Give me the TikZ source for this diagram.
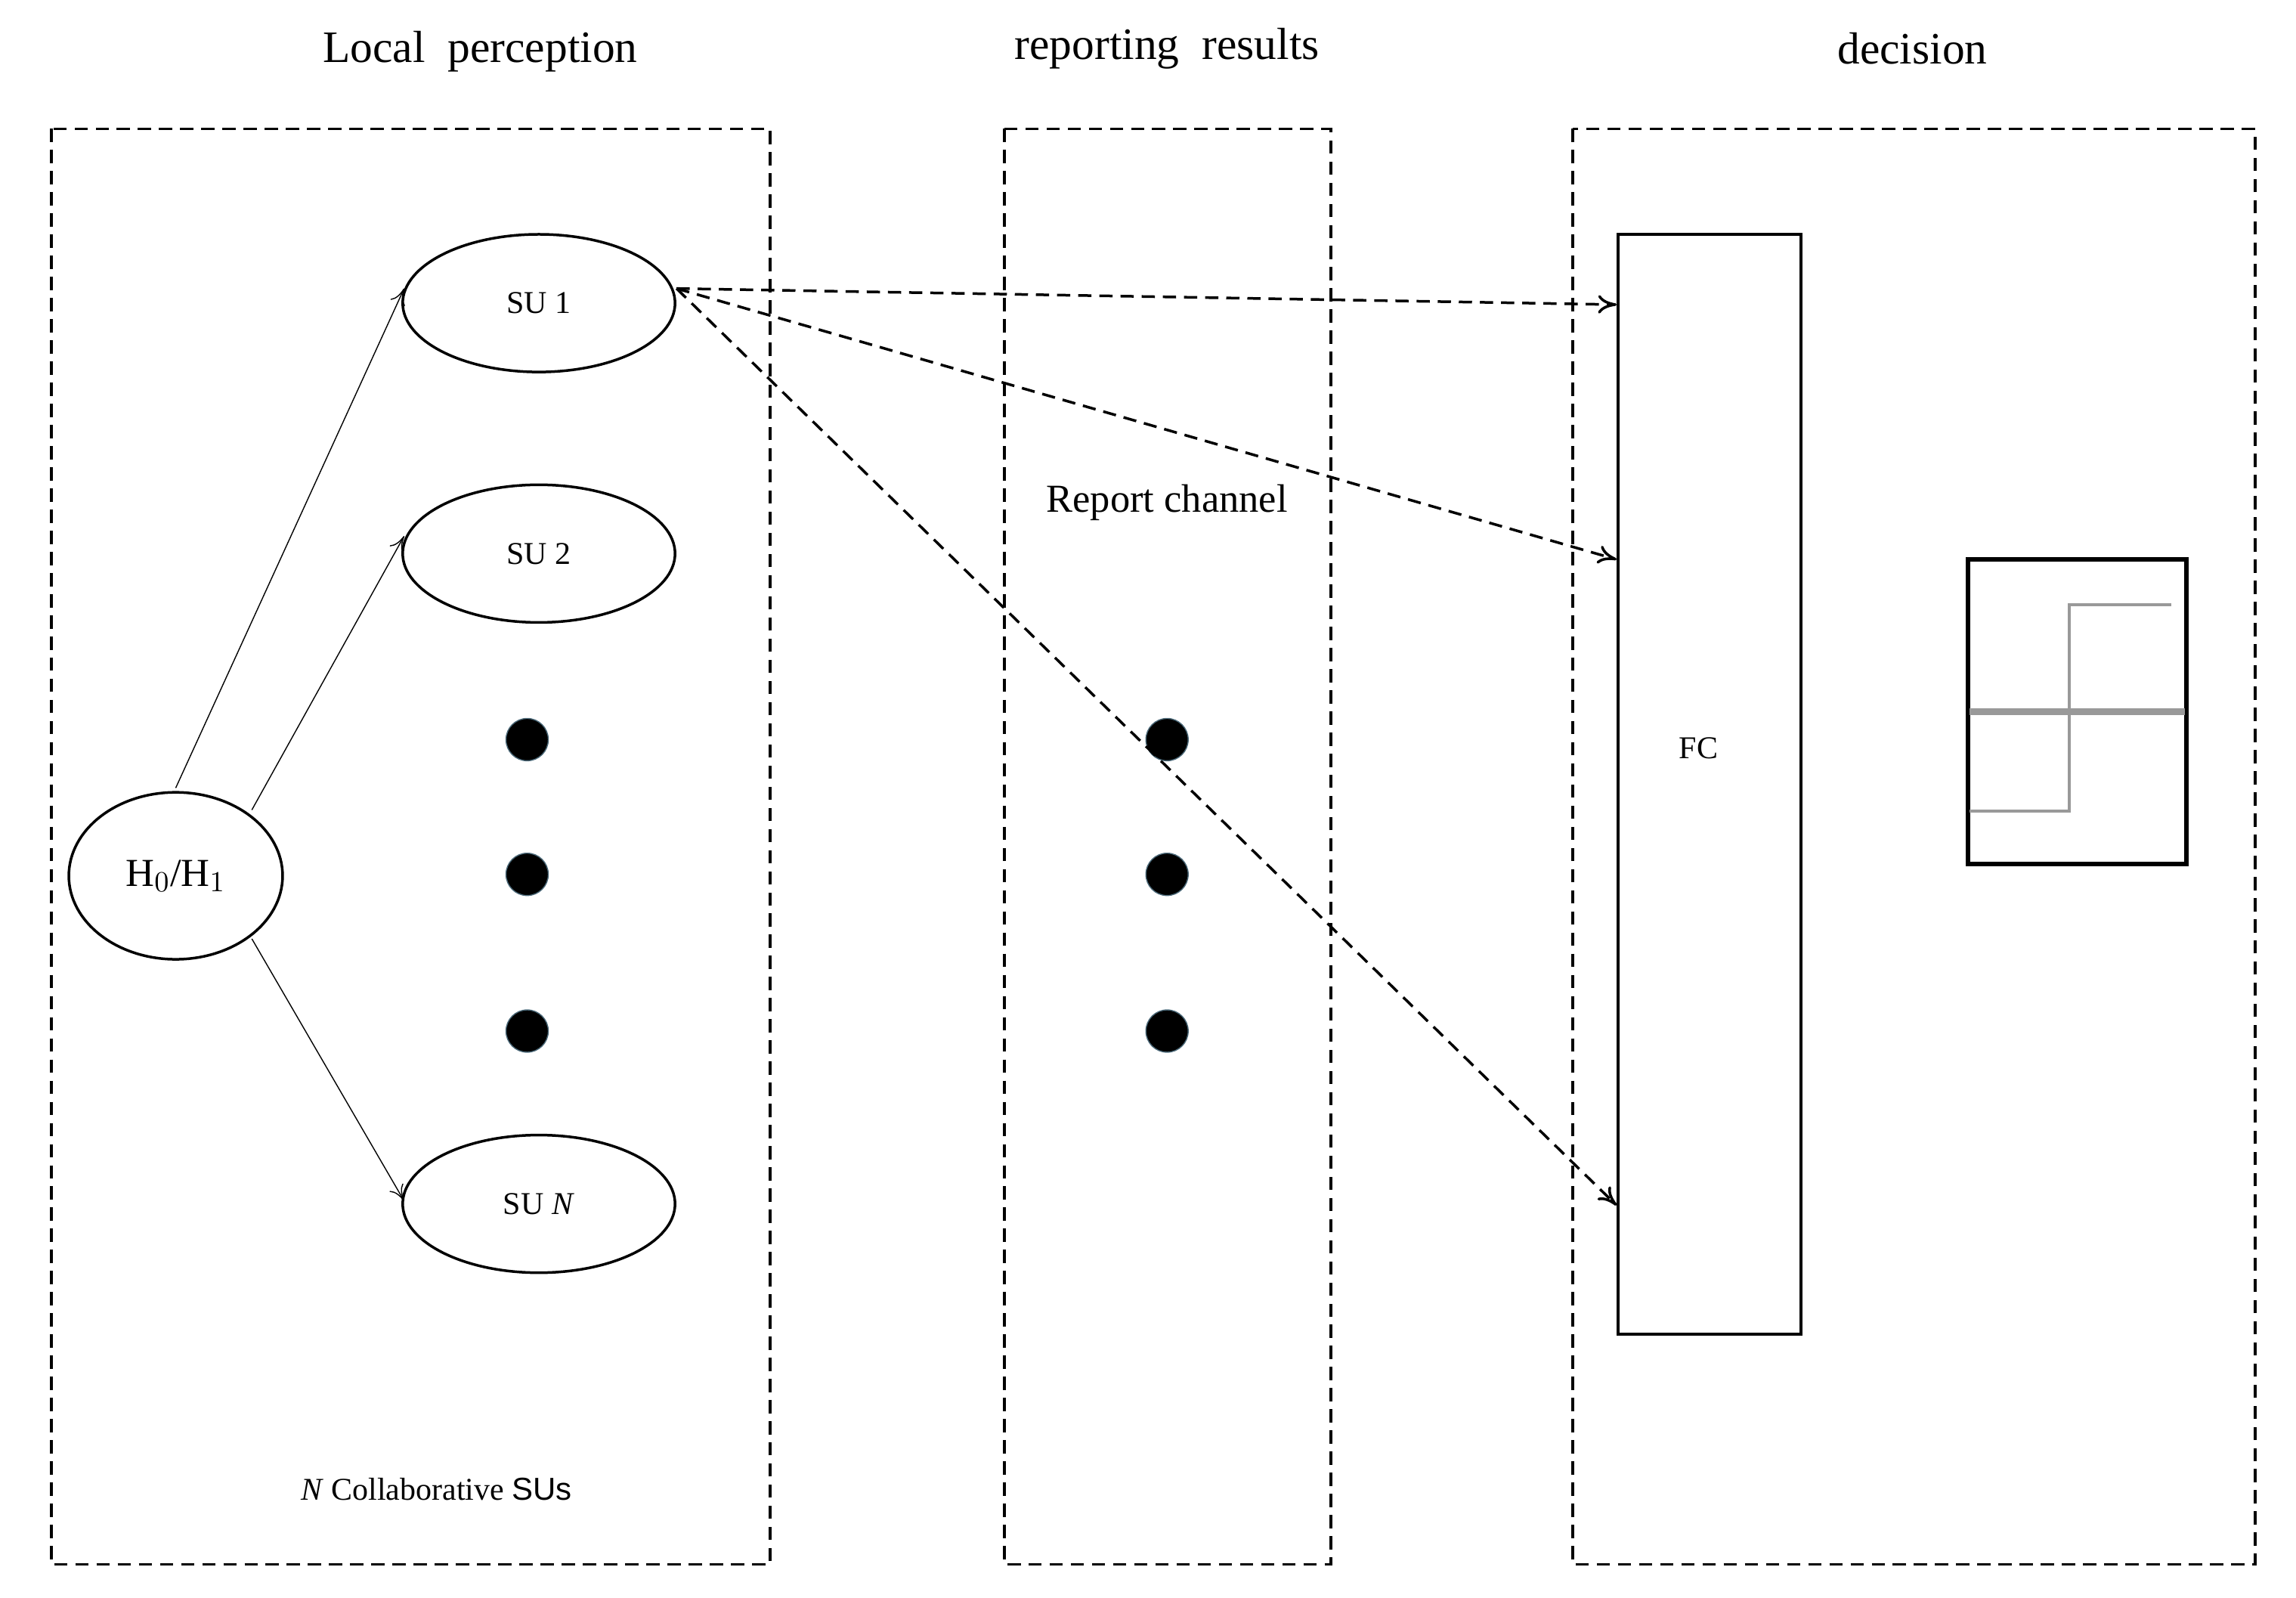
\documentclass[tikz,border=0pt]{standalone}
\usepackage{fontspec}
\setmainfont{Liberation Serif}
\newfontfamily\sansf{Liberation Sans}
\usetikzlibrary{shapes.geometric,arrows.meta}
\begin{document}
\begin{tikzpicture}[x=0.01947cm,y=-0.01947cm,
  box/.style={draw,dashed,line width=1pt,dash pattern=on 5pt off 3pt},
  dot/.style={circle,fill=black,draw=black!60!cyan,minimum size=16pt,inner sep=0pt},
  sol/.style={->,>={To[length=6pt,width=6pt]},line width=0.4pt},
  dsh/.style={->,>={To[length=7pt,width=7pt]},line width=1pt,dash pattern=on 5pt off 3pt},
  title/.style={font=\fontsize{17}{20}\selectfont}]
\useasboundingbox (0,0) rectangle (1568,1091);
\node[title] (t1) at (328,35) {Local\ \ perception};
\node[title] (t2) at (797,33) {reporting\ \ results};
\node[title] (t3) at (1306,33) {decision};
\draw[box] (35,88) rectangle (526,1068);
\draw[box] (686,88) rectangle (909,1068);
\draw[box] (1074,88) rectangle (1540,1068);
\node[draw,ellipse,line width=1pt,minimum width=186*0.01947cm,minimum height=94*0.01947cm,font=\fontsize{12}{14}\selectfont] (s1) at (368,207) {SU 1};
\node[draw,ellipse,line width=1pt,minimum width=186*0.01947cm,minimum height=94*0.01947cm,font=\fontsize{12}{14}\selectfont] (s2) at (368,378) {SU 2};
\node[draw,ellipse,line width=1pt,minimum width=186*0.01947cm,minimum height=94*0.01947cm,font=\fontsize{12}{14}\selectfont] (sn) at (368,822) {SU \textit{N}};
\node[draw,ellipse,line width=1pt,minimum width=146*0.01947cm,minimum height=114*0.01947cm,font=\fontsize{15}{18}\selectfont,inner sep=0pt] (h) at (120,598) {H$_0$/H$_1$};
\foreach \y/\n in {505/a,597/b,704/c}{
  \node[dot] (l\n) at (360,\y) {};
  \node[dot] (m\n) at (797,\y) {};
}
\node[font=\fontsize{15}{18}\selectfont] (rc) at (797,343) {Report channel};
\node[font=\fontsize{12}{14}\selectfont] (col) at (298,1017) {\textit{N} Collaborative {\sansf SUs}};
\node[draw,line width=1pt,minimum width=125*0.01947cm,minimum height=751*0.01947cm,anchor=north west] (fc) at (1104,159) {};
\node[font=\fontsize{12}{14}\selectfont] (fct) at (1160,511) {FC};
\coordinate (f1) at (1104,208);
\coordinate (f2) at (1104,382);
\coordinate (f3) at (1104,823);
\coordinate (h1) at (120,538);
\coordinate (h2) at (172,553);
\coordinate (h3) at (172,641);
\coordinate (e1) at (276,197);
\coordinate (e2) at (276,366);
\coordinate (e3) at (276,820);
\coordinate (o) at (462,197);
\draw[sol] (h1) -- (e1);
\draw[sol] (h2) -- (e2);
\draw[sol] (h3) -- (e3);
\draw[dsh] (o) -- (f1);
\draw[dsh] (o) -- (f2);
\draw[dsh] (o) -- (f3);
\draw[line width=1.8pt] (1344,382) rectangle (1493,590);
\draw[gray!80,line width=2.5pt] (1345,486) -- (1492,486);
\draw[gray!80,line width=1.2pt] (1345,554) -- (1413,554) -- (1413,413) -- (1483,413);
\end{tikzpicture}
\end{document}
